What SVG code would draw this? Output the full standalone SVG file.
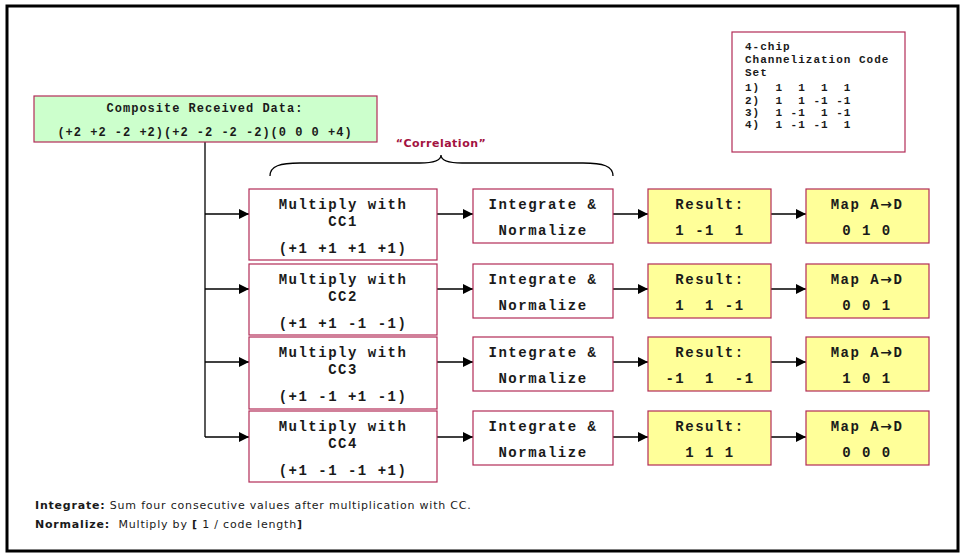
<svg xmlns="http://www.w3.org/2000/svg" width="963" height="555" viewBox="0 0 963 555">
<defs>
<style>
.box{stroke:#b22c57;stroke-width:1.2}
.w{fill:#ffffff}
.g{fill:#ccffcc}
.y{fill:#ffff99}
.m{font-family:"Liberation Mono","Courier New",monospace;font-weight:bold;fill:#1a1a1a;white-space:pre}
.m13{font-size:14px;letter-spacing:1.5px;text-anchor:middle}
.m11{font-size:12px;letter-spacing:1px;text-anchor:middle}
.m10{font-size:11px;letter-spacing:1px}
.arr{font-family:"DejaVu Sans",sans-serif;font-weight:bold}
.s{font-family:"DejaVu Sans",Verdana,sans-serif;font-size:11px;fill:#1a1a1a;letter-spacing:0.8px}
.sb{font-weight:bold}
.corr{font-family:"DejaVu Sans",Verdana,sans-serif;font-size:11px;font-weight:bold;fill:#a3123f;text-anchor:middle;letter-spacing:0.5px}
.ln{stroke:#000;stroke-width:1.3;fill:none}
</style>
<marker id="ah" viewBox="0 0 10 10" refX="10" refY="5" markerWidth="10" markerHeight="10" markerUnits="userSpaceOnUse" orient="auto">
<path d="M0,0 L10,5 L0,10 Z" fill="#000"/>
</marker>
</defs>
<rect x="0" y="0" width="963" height="555" fill="#ffffff"/>
<rect id="frame" x="7" y="6" width="951" height="545" fill="none" stroke="#000" stroke-width="3"/>

<g id="connectors">
<path class="ln" d="M205,142 V437"/>
<path class="ln" d="M205,214 H249" marker-end="url(#ah)"/>
<path class="ln" d="M205,289 H249" marker-end="url(#ah)"/>
<path class="ln" d="M205,362 H249" marker-end="url(#ah)"/>
<path class="ln" d="M205,437 H249" marker-end="url(#ah)"/>
<path class="ln" d="M437,214 H473" marker-end="url(#ah)"/>
<path class="ln" d="M437,289 H473" marker-end="url(#ah)"/>
<path class="ln" d="M437,362 H473" marker-end="url(#ah)"/>
<path class="ln" d="M437,437 H473" marker-end="url(#ah)"/>
<path class="ln" d="M613,214 H648" marker-end="url(#ah)"/>
<path class="ln" d="M613,289 H648" marker-end="url(#ah)"/>
<path class="ln" d="M613,362 H648" marker-end="url(#ah)"/>
<path class="ln" d="M613,437 H648" marker-end="url(#ah)"/>
<path class="ln" d="M771,214 H806" marker-end="url(#ah)"/>
<path class="ln" d="M771,289 H806" marker-end="url(#ah)"/>
<path class="ln" d="M771,362 H806" marker-end="url(#ah)"/>
<path class="ln" d="M771,437 H806" marker-end="url(#ah)"/>
</g>

<g id="composite">
<rect class="box g" x="34" y="96" width="343" height="46"/>
<text class="m m11" x="205" y="112">Composite Received Data:</text>
<text class="m m11" x="205" y="135.5">(+2 +2 -2 +2)(+2 -2 -2 -2)(0 0 0 +4)</text>
</g>

<g id="codeset">
<rect class="box w" x="732" y="32" width="173" height="120"/>
<text class="m m10" x="745" y="50">4-chip</text>
<text class="m m10" x="745" y="63">Channelization Code</text>
<text class="m m10" x="745" y="76">Set</text>
<text class="m m10" x="745" y="91">1)  1  1  1  1</text>
<text class="m m10" x="745" y="103.5">2)  1  1 -1 -1</text>
<text class="m m10" x="745" y="115.5">3)  1 -1  1 -1</text>
<text class="m m10" x="745" y="128">4)  1 -1 -1  1</text>
</g>

<g id="correlation">
<path class="ln" stroke-width="1" d="M270,176 C270,166 280,163 300,163 L420,163 C436,163 441,160 441,155 C441,160 446,163 462,163 L583,163 C603,163 613,166 613,176"/>
<text class="corr" x="441" y="147">“Correlation”</text>
</g>

<g id="mult1">
<rect class="box w" x="249" y="189" width="188" height="71"/>
<text class="m m13" x="343" y="209">Multiply with</text>
<text class="m m13" x="343" y="226">CC1</text>
<text class="m m13" x="343" y="253">(+1 +1 +1 +1)</text>
</g>
<g id="mult2">
<rect class="box w" x="249" y="264" width="188" height="71"/>
<text class="m m13" x="343" y="284">Multiply with</text>
<text class="m m13" x="343" y="301">CC2</text>
<text class="m m13" x="343" y="328">(+1 +1 -1 -1)</text>
</g>
<g id="mult3">
<rect class="box w" x="249" y="337" width="188" height="72"/>
<text class="m m13" x="343" y="357">Multiply with</text>
<text class="m m13" x="343" y="374">CC3</text>
<text class="m m13" x="343" y="401">(+1 -1 +1 -1)</text>
</g>
<g id="mult4">
<rect class="box w" x="249" y="411" width="188" height="71"/>
<text class="m m13" x="343" y="431">Multiply with</text>
<text class="m m13" x="343" y="448">CC4</text>
<text class="m m13" x="343" y="475">(+1 -1 -1 +1)</text>
</g>

<g id="integ1">
<rect class="box w" x="473" y="189" width="140" height="54"/>
<text class="m m13" x="543" y="209">Integrate &amp;</text>
<text class="m m13" x="543" y="235">Normalize</text>
</g>
<g id="integ2">
<rect class="box w" x="473" y="264" width="140" height="54"/>
<text class="m m13" x="543" y="284">Integrate &amp;</text>
<text class="m m13" x="543" y="310">Normalize</text>
</g>
<g id="integ3">
<rect class="box w" x="473" y="337" width="140" height="54"/>
<text class="m m13" x="543" y="357">Integrate &amp;</text>
<text class="m m13" x="543" y="383">Normalize</text>
</g>
<g id="integ4">
<rect class="box w" x="473" y="411" width="140" height="54"/>
<text class="m m13" x="543" y="431">Integrate &amp;</text>
<text class="m m13" x="543" y="457">Normalize</text>
</g>

<g id="result1">
<rect class="box y" x="648" y="189" width="123" height="54"/>
<text class="m m13" x="710" y="209">Result:</text>
<text class="m m13" x="710" y="235">1 -1  1</text>
</g>
<g id="result2">
<rect class="box y" x="648" y="264" width="123" height="54"/>
<text class="m m13" x="710" y="284">Result:</text>
<text class="m m13" x="710" y="310">1  1 -1</text>
</g>
<g id="result3">
<rect class="box y" x="648" y="337" width="123" height="54"/>
<text class="m m13" x="710" y="357">Result:</text>
<text class="m m13" x="710" y="383">-1  1  -1</text>
</g>
<g id="result4">
<rect class="box y" x="648" y="411" width="123" height="54"/>
<text class="m m13" x="710" y="431">Result:</text>
<text class="m m13" x="710" y="457">1 1 1</text>
</g>

<g id="map1">
<rect class="box y" x="806" y="189" width="123" height="54"/>
<text class="m m13" x="867" y="209">Map A<tspan class="arr">→</tspan>D</text>
<text class="m m13" x="867" y="235">0 1 0</text>
</g>
<g id="map2">
<rect class="box y" x="806" y="264" width="123" height="54"/>
<text class="m m13" x="867" y="284">Map A<tspan class="arr">→</tspan>D</text>
<text class="m m13" x="867" y="310">0 0 1</text>
</g>
<g id="map3">
<rect class="box y" x="806" y="337" width="123" height="54"/>
<text class="m m13" x="867" y="357">Map A<tspan class="arr">→</tspan>D</text>
<text class="m m13" x="867" y="383">1 0 1</text>
</g>
<g id="map4">
<rect class="box y" x="806" y="411" width="123" height="54"/>
<text class="m m13" x="867" y="431">Map A<tspan class="arr">→</tspan>D</text>
<text class="m m13" x="867" y="457">0 0 0</text>
</g>

<g id="notes">
<text class="s" x="35" y="509"><tspan class="sb">Integrate:</tspan> Sum four consecutive values after multiplication with CC.</text>
<text class="s" x="35" y="528" xml:space="preserve"><tspan class="sb">Normalize:</tspan>  Multiply by <tspan class="sb">[</tspan> 1 / code length<tspan class="sb">]</tspan></text>
</g>
</svg>
